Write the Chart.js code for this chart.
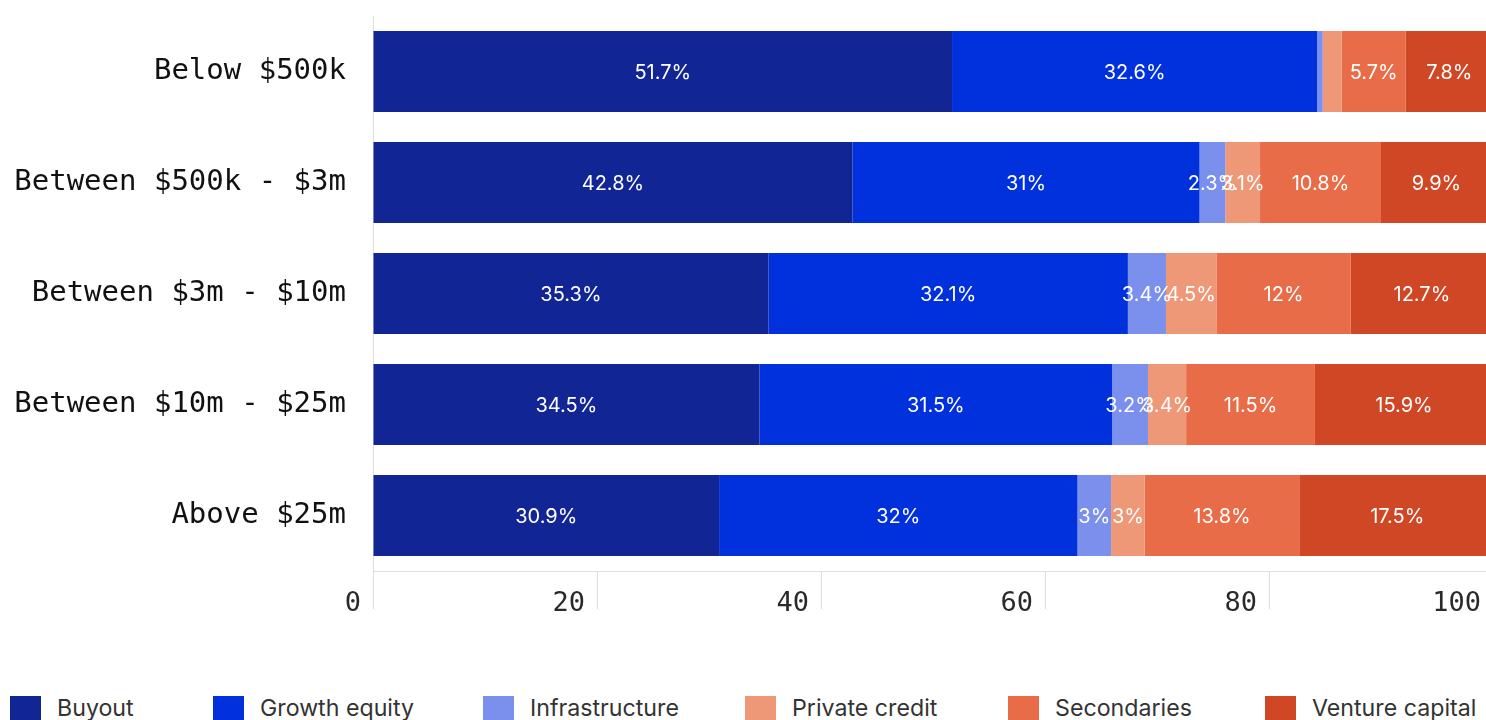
<!DOCTYPE html>
<html>
<head>
<meta charset="utf-8">
<script src="https://cdn.jsdelivr.net/npm/chart.js@4/dist/chart.umd.min.js"></script>
<style>
  body { margin: 0; background: #fff; overflow: hidden; }
  #wrap { position: relative; width: 1493px; height: 640px; }
  #legend {
    position: absolute; top: 696px; left: 0; width: 1486px; height: 30px;
    font-family: Inter, "Noto Sans", sans-serif; font-size: 23.2px; color: #333;
  }
  .item { position: absolute; top: 0; display: flex; align-items: flex-start; line-height: 24px; white-space: nowrap; }
  .box { width: 31px; height: 24px; margin-right: 16px; }
</style>
</head>
<body>
<div id="wrap"><canvas id="chart"></canvas></div>
<div id="legend"></div>
<script>
// --- Data ---
const categories = ['Below $500k', 'Between $500k - $3m', 'Between $3m - $10m', 'Between $10m - $25m', 'Above $25m'];
const seriesNames = ['Buyout', 'Growth equity', 'Infrastructure', 'Private credit', 'Secondaries', 'Venture capital'];
const buyout = [51.7, 42.8, 35.3, 34.5, 30.9];
const growthEquity = [32.6, 31, 32.1, 31.5, 32];
const infrastructure = [0.5, 2.3, 3.4, 3.2, 3];
const privateCredit = [1.7, 3.1, 4.5, 3.4, 3];
const secondaries = [5.7, 10.8, 12, 11.5, 13.8];
const ventureCapital = [7.8, 9.9, 12.7, 15.9, 17.5];
const xTicks = [0, 20, 40, 60, 80, 100];

const colors = ['#122594', '#0131DC', '#7B8FEC', '#EE9878', '#E86C47', '#CF4725'];
const seriesValues = [buyout, growthEquity, infrastructure, privateCredit, secondaries, ventureCapital];

// legend item x positions (px)
const legendLeft = [10, 213, 483, 745, 1008, 1265];

// labels inside the bars (segments under 2% are left blank)
const barLabels = {
    id: 'barLabels',
    afterDatasetsDraw(chart) {
        const ctx = chart.ctx;
        ctx.save();
        ctx.font = '20px Inter, "Noto Sans", sans-serif';
        ctx.fillStyle = '#fff';
        ctx.textAlign = 'center';
        ctx.textBaseline = 'middle';
        chart.data.datasets.forEach((ds, i) => {
            chart.getDatasetMeta(i).data.forEach((bar, j) => {
                const v = ds.data[j];
                if (v < 2) return;
                ctx.fillText(v + '%', (bar.x + bar.base) / 2, bar.y + 1);
            });
        });
        ctx.restore();
    }
};

// x tick labels sit just left of their tick marks
const xLabels = {
    id: 'xLabels',
    afterDraw(chart) {
        const ctx = chart.ctx;
        const sx = chart.scales.x;
        ctx.save();
        ctx.font = '27px "DejaVu Sans Mono", monospace';
        ctx.fillStyle = '#2a2a2a';
        ctx.textAlign = 'right';
        ctx.textBaseline = 'middle';
        xTicks.forEach(t => ctx.fillText(String(t), sx.getPixelForValue(t) - 12, sx.top + 33));
        ctx.restore();
    }
};

const chart = new Chart(document.getElementById('chart'), {
    type: 'bar',
    data: {
        labels: categories,
        datasets: seriesNames.map((name, i) => ({
            label: name,
            data: seriesValues[i],
            backgroundColor: colors[i],
            borderWidth: 0,
            barPercentage: 0.73,
            categoryPercentage: 1
        }))
    },
    options: {
        indexAxis: 'y',
        responsive: true,
        maintainAspectRatio: false,
        animation: false,
        layout: { padding: { top: 16, right: 0, bottom: 30, left: 0 } },
        plugins: { legend: { display: false }, tooltip: { enabled: false } },
        scales: {
            x: {
                stacked: true, min: 0, max: 100,
                afterBuildTicks(scale) { scale.ticks = xTicks.map(v => ({ value: v })); },
                afterFit(scale) { scale.height = 39; scale.paddingLeft = 0; scale.paddingRight = 0; },
                grid: { drawOnChartArea: false, drawTicks: true, tickLength: 38, color: '#ddd', lineWidth: 1 },
                border: { display: true, color: '#ddd' },
                ticks: { display: false }
            },
            y: {
                stacked: true,
                afterFit(scale) { scale.width = 373; scale.paddingTop = 0; scale.paddingBottom = 0; },
                grid: { display: false },
                border: { display: true, color: '#ddd' },
                ticks: { color: '#111', padding: 19, font: { family: '"DejaVu Sans Mono", monospace', size: 29, lineHeight: 1.4 } }
            }
        }
    },
    plugins: [barLabels, xLabels]
});

// --- Legend ---
const legend = document.getElementById('legend');
seriesNames.forEach((name, i) => {
    const el = document.createElement('div');
    el.className = 'item';
    el.style.left = legendLeft[i] + 'px';
    el.innerHTML = `<span class="box" style="background:${colors[i]}"></span><span>${name}</span>`;
    legend.appendChild(el);
});
</script>
</body>
</html>
